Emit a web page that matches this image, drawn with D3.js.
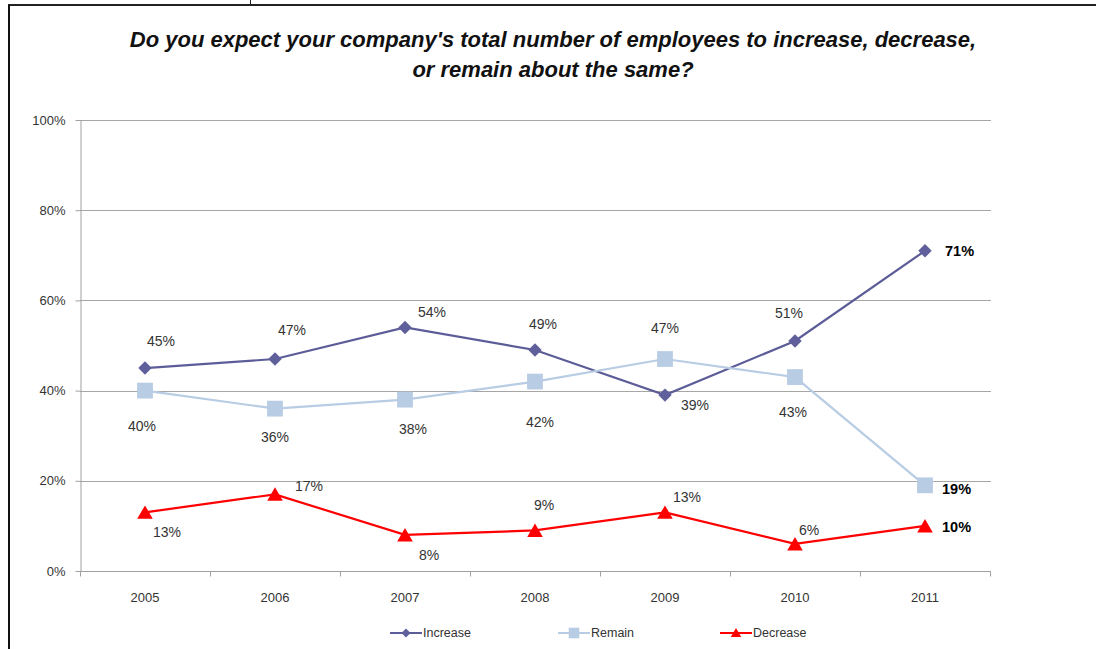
<!DOCTYPE html>
<html>
<head>
<meta charset="utf-8">
<script src="https://cdn.jsdelivr.net/npm/d3@7"></script>
<style>
  html, body { margin: 0; padding: 0; background: #fff; }
  svg { display: block; font-family: "Liberation Sans", Arial, sans-serif; }
</style>
</head>
<body>
<svg id="chart" width="1096" height="649"></svg>
<script>
// Survey years and the share of respondents per answer (percent)
const years = ["2005", "2006", "2007", "2008", "2009", "2010", "2011"];
const increase = [45, 47, 54, 49, 39, 51, 71];
const remain = [40, 36, 38, 42, 47, 43, 19];
const decrease = [13, 17, 8, 9, 13, 6, 10];
const yTicks = [0, 20, 40, 60, 80, 100];
const titleLines = [
  "Do you expect your company's total number of employees to increase, decrease,",
  "or remain about the same?"
];

// Label offsets (px) from each point, so labels sit clear of the lines
const increaseLabelOffsets = [[16,-27],[17,-29],[27,-15],[8,-26],[30,10],[-6,-28],[35,0]];
const remainLabelOffsets = [[-3,35],[0,28],[8,29],[5,40],[0,-31],[-2,35],[32,4]];
const decreaseLabelOffsets = [[22,20],[34,-8],[24,20],[9,-25],[22,-15],[14,-14],[32,1]];

const series = [
  { name: "Increase", values: increase, offsets: increaseLabelOffsets, color: "#5c5c98", marker: d3.symbolSquare, rotate: 45, dy: 0, size: 90, markerColor: "#5f5f9b" },
  { name: "Remain", values: remain, offsets: remainLabelOffsets, color: "#b8cce4", marker: d3.symbolSquare, rotate: 0, dy: 0, size: 250, markerColor: "#b8cce4" },
  { name: "Decrease", values: decrease, offsets: decreaseLabelOffsets, color: "#ff0000", marker: d3.symbolTriangle, rotate: 0, dy: 2, size: 105, markerColor: "#ff0000" }
];

const svg = d3.select("#chart");

// Frame
svg.append("line").attr("x1", 8).attr("x2", 1096).attr("y1", 5).attr("y2", 5)
  .attr("stroke", "#222").attr("stroke-width", 2);
svg.append("line").attr("x1", 9).attr("x2", 9).attr("y1", 5).attr("y2", 649)
  .attr("stroke", "#111").attr("stroke-width", 2);
svg.append("line").attr("x1", 250.5).attr("x2", 250.5).attr("y1", 0).attr("y2", 5)
  .attr("stroke", "#222").attr("stroke-width", 1);

// Title
svg.append("g").selectAll("text").data(titleLines).join("text")
  .attr("x", 553).attr("y", (d, i) => 47 + i * 30)
  .attr("text-anchor", "middle")
  .attr("font-size", 22).attr("font-style", "italic").attr("font-weight", "bold")
  .attr("fill", "#111")
  .text(d => d);

const plotLeft = 80, plotRight = 990, plotTop = 120, plotBottom = 571;
const x = d3.scalePoint().domain(years).range([plotLeft, plotRight]).padding(0.5);
const xBand = d3.scaleBand().domain(years).range([plotLeft, plotRight]);
const y = d3.scaleLinear().domain([0, 100]).range([plotBottom, plotTop]);

// Gridlines
svg.append("g").selectAll("line").data(yTicks.filter(t => t > 0)).join("line")
  .attr("x1", plotLeft).attr("x2", plotRight + 1)
  .attr("y1", d => Math.round(y(d)) + 0.5).attr("y2", d => Math.round(y(d)) + 0.5)
  .attr("stroke", "#a6a6a6").attr("stroke-width", 1);

// Y axis
const yAxis = svg.append("g").attr("transform", `translate(${plotLeft + 0.5},0)`)
  .call(d3.axisLeft(y).tickValues(yTicks).tickFormat(d => d + "%").tickSize(5).tickSizeOuter(0));
yAxis.select(".domain").attr("stroke", "#a0a0a0");
yAxis.selectAll(".tick line").attr("stroke", "#a0a0a0");
yAxis.selectAll(".tick text").attr("font-size", 13).attr("fill", "#333")
  .attr("font-family", "Liberation Sans, Arial, sans-serif").attr("x", -15);

// X axis with ticks between categories
const xAxisG = svg.append("g").attr("transform", `translate(0,${plotBottom + 0.5})`);
xAxisG.append("line").attr("x1", plotLeft).attr("x2", plotRight + 1).attr("stroke", "#a0a0a0");
const bounds = years.map(d => xBand(d)).concat([plotRight]);
xAxisG.selectAll("line.tk").data(bounds).join("line").attr("class", "tk")
  .attr("x1", d => Math.round(d) + 0.5).attr("x2", d => Math.round(d) + 0.5)
  .attr("y1", 0).attr("y2", 5).attr("stroke", "#a0a0a0");
xAxisG.selectAll("text").data(years).join("text")
  .attr("x", d => x(d)).attr("y", 30)
  .attr("text-anchor", "middle").attr("font-size", 13).attr("fill", "#333")
  .text(d => d);

// Lines, markers and value labels
const line = d3.line().x((d, i) => x(years[i])).y(d => y(d));
series.forEach(s => {
  const g = svg.append("g");
  g.append("path").datum(s.values)
    .attr("d", line).attr("fill", "none")
    .attr("stroke", s.color).attr("stroke-width", 2.2);
  g.selectAll("path.m").data(s.values).join("path").attr("class", "m")
    .attr("transform", (d, i) => `translate(${x(years[i])},${y(d) + s.dy}) rotate(${s.rotate})`)
    .attr("d", d3.symbol(s.marker, s.size)())
    .attr("fill", s.markerColor);
  g.selectAll("text").data(s.values).join("text")
    .attr("x", (d, i) => x(years[i]) + s.offsets[i][0] + (i === years.length - 1 ? -15 : 0))
    .attr("y", (d, i) => y(d) + s.offsets[i][1])
    .attr("dominant-baseline", "central")
    .attr("text-anchor", (d, i) => i === years.length - 1 ? "start" : "middle")
    .attr("font-size", (d, i) => i === years.length - 1 ? 14.5 : 14)
    .attr("font-weight", (d, i) => i === years.length - 1 ? "bold" : "normal")
    .attr("fill", (d, i) => i === years.length - 1 ? "#000" : "#333")
    .text(d => d + "%");
});

// Legend
const legendX = [390, 558, 720];
const legend = svg.append("g").attr("transform", "translate(0,633)");
series.forEach((s, i) => {
  const lg = legend.append("g").attr("transform", `translate(${legendX[i]},0)`);
  lg.append("line").attr("x1", 0).attr("x2", 32).attr("stroke", s.color).attr("stroke-width", 2);
  lg.append("path").attr("transform", `translate(16,${s.dy / 2}) rotate(${s.rotate})`)
    .attr("d", d3.symbol(s.marker, s.size * 0.45)()).attr("fill", s.markerColor);
  lg.append("text").attr("x", 33).attr("y", 0).attr("dominant-baseline", "central")
    .attr("font-size", 12.5).attr("fill", "#333").text(s.name);
});
</script>
</body>
</html>
